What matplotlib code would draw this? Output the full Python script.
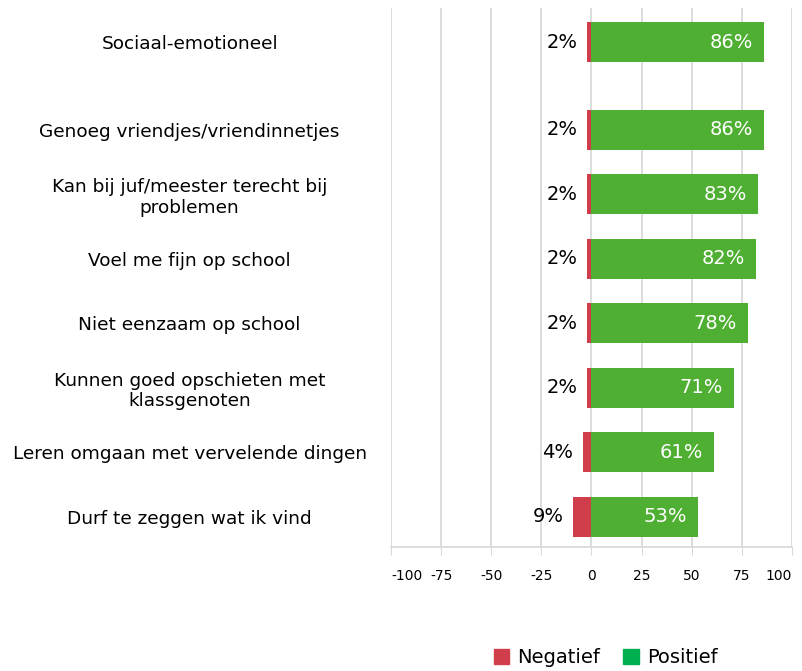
import numpy as np
import matplotlib.pyplot as plt

categories = ['Sociaal-emotioneel',
              'Genoeg vriendjes/vriendinnetjes',
              'Kan bij juf/meester terecht bij\nproblemen',
              'Voel me fijn op school',
              'Niet eenzaam op school',
              'Kunnen goed opschieten met\nklassgenoten',
              'Leren omgaan met vervelende dingen',
              'Durf te zeggen wat ik vind']
negatief = [2, 2, 2, 2, 2, 2, 4, 9]
positief = [86, 86, 83, 82, 78, 71, 61, 53]
ticks = [-100, -75, -50, -25, 0, 25, 50, 75, 100]

red = '#D03E4B'
green = '#4FAF33'

fig = plt.figure(figsize=(8.02, 6.71), dpi=100)
ax = fig.add_axes([0.4875, 0.185, 0.5, 0.803])

# first row sits a bit apart from the rest
pos = np.arange(len(categories)) + np.where(np.arange(len(categories)) > 0, 0.36, 0)

neg = -np.array(negatief)
ax.barh(pos, neg, height=0.62, color=red, zorder=3)
ax.barh(pos, positief, height=0.62, color=green, zorder=3)

for y, n, p in zip(pos, negatief, positief):
    ax.text(-n - 5, y, f'{n}%', ha='right', va='center', fontsize=14, color='black')
    ax.text(p - 5.5, y, f'{p}%', ha='right', va='center', fontsize=14, color='white')

ax.set_xlim(-100, 100)
ax.set_ylim(pos[-1] + 0.47, -0.53)
ax.set_xticks(ticks)
ax.set_xticklabels([str(t) for t in ticks], fontsize=10)
labs = ax.get_xticklabels()
labs[0].set_ha('left')
labs[-1].set_ha('right')
ax.set_yticks(pos)
ax.set_yticklabels(categories, fontsize=13.3, ha='center', multialignment='center')
ax.tick_params(axis='y', length=0, pad=145)
ax.tick_params(axis='x', length=6, color='#d9d9d9', pad=10)
ax.grid(axis='x', color='#d9d9d9', linewidth=1.3, zorder=0)
for s in ['top', 'right', 'left']:
    ax.spines[s].set_visible(False)
ax.spines['bottom'].set_color('#d9d9d9')
ax.spines['bottom'].set_linewidth(1.3)

handles = [plt.Rectangle((0, 0), 1, 1, color=red),
           plt.Rectangle((0, 0), 1, 1, color='#00B050')]
fig.legend(handles, ['Negatief', 'Positief'], loc='center', bbox_to_anchor=(0.755, 0.02),
           ncol=2, frameon=False, fontsize=14, handlelength=0.8, handleheight=0.8,
           handletextpad=0.4, columnspacing=1.2)

fig.savefig('out.png', dpi=100)
